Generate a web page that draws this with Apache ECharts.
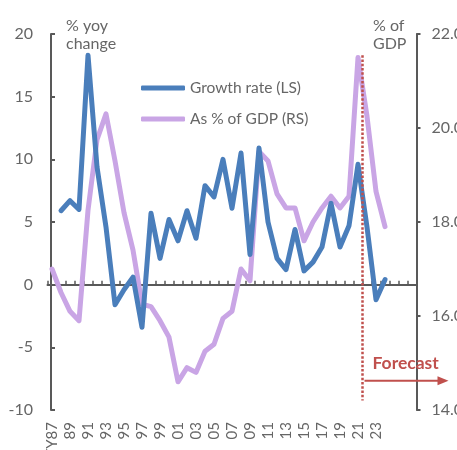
<!DOCTYPE html>
<html>
<head>
<meta charset="utf-8">
<script src="https://cdn.jsdelivr.net/npm/echarts@6/dist/echarts.min.js"></script>
<style>
  html, body { margin: 0; padding: 0; background: #ffffff; }
  #chart { width: 457px; height: 450px; }
</style>
</head>
<body>
<div id="chart"></div>
<script>
// Fiscal years on the category axis (the last few are empty room past the forecast)
const categories = [
  'FY87','FY88','FY89','FY90','FY91','FY92','FY93','FY94','FY95','FY96',
  'FY97','FY98','FY99','FY00','FY01','FY02','FY03','FY04','FY05','FY06',
  'FY07','FY08','FY09','FY10','FY11','FY12','FY13','FY14','FY15','FY16',
  'FY17','FY18','FY19','FY20','FY21','FY22','FY23','FY24','FY25','FY26','FY27'
];

// Labels printed under every other year
const tickLabels = ['FY87','89','91','93','95','97','99','01','03','05',
                    '07','09','11','13','15','17','19','21','23'];

// Growth rate, % yoy (left scale), FY87..FY24
const growthRate = [
  null, 5.9, 6.7, 6.0, 18.3, 9.4, 4.6, -1.6, -0.4, 0.6,
  -3.4, 5.7, 2.1, 5.2, 3.5, 5.9, 3.7, 7.9, 7.0, 10.0,
  6.1, 10.5, 2.4, 10.9, 5.0, 2.1, 1.2, 4.4, 1.1, 1.8,
  3.0, 6.5, 3.0, 4.7, 9.6, 4.6, -1.2, 0.4
];

// Share of GDP, % (right scale), FY87..FY24
const shareOfGdp = [
  17.0, 16.5, 16.1, 15.9, 18.25, 19.75, 20.3, 19.3, 18.2, 17.4,
  16.25, 16.2, 15.9, 15.55, 14.6, 14.9, 14.8, 15.25, 15.4, 15.95,
  16.1, 17.0, 16.75, 19.5, 19.3, 18.6, 18.3, 18.3, 17.6, 18.0,
  18.3, 18.55, 18.3, 18.55, 21.5, 20.25, 18.65, 17.9
];

// Forecast boundary sits between these two years
const lastActual = 'FY21';
const firstForecast = 'FY22';

const FONT = 'Lato';
const TEXT = '#666666';
const AXIS = '#595959';
const BLUE = '#4a7ebb';
const PURPLE = '#c9a5e5';
const RED = '#c0504d';

const chart = echarts.init(document.getElementById('chart'), null, { renderer: 'canvas' });

chart.setOption({
  animation: false,
  backgroundColor: '#ffffff',
  grid: { left: 47.5, right: 40.5, top: 34, bottom: 40, containLabel: false, outerBoundsMode: 'none' },
  legend: {
    orient: 'vertical',
    left: 136,
    top: 74,
    itemWidth: 44,
    itemHeight: 5,
    itemGap: 13,
    icon: 'roundRect',
    data: ['Growth rate (LS)', 'As % of GDP (RS)'],
    textStyle: { fontFamily: FONT, fontSize: 15.5, color: TEXT, lineHeight: 18 }
  },
  xAxis: [
    {
      type: 'category',
      data: categories,
      position: 'bottom',
      boundaryGap: true,
      axisLine: { show: false, onZero: false },
      axisTick: { show: false },
      axisLabel: {
        rotate: 90,
        margin: 12,
        fontFamily: FONT,
        fontSize: 15,
        color: TEXT,
        interval: 0,
        hideOverlap: false,
        formatter: (v, i) => (i % 2 === 0 && i / 2 < tickLabels.length) ? tickLabels[i / 2] : ''
      },
      splitLine: { show: false }
    },
    {
      // zero line with small year ticks
      type: 'category',
      data: categories,
      position: 'top',
      boundaryGap: true,
      axisLine: { show: true, onZero: true, lineStyle: { color: AXIS, width: 2 } },
      axisTick: { show: true, inside: false, length: 4, interval: 0, lineStyle: { color: AXIS, width: 1.5 } },
      axisLabel: { show: false },
      splitLine: { show: false }
    }
  ],
  yAxis: [
    {
      type: 'value',
      min: -10, max: 20, interval: 5,
      position: 'left',
      offset: -3.5,
      axisLine: { show: true, onZero: false, lineStyle: { color: AXIS, width: 2 } },
      axisTick: { show: true, inside: true, length: 4, lineStyle: { color: AXIS, width: 2 } },
      axisLabel: { margin: 18, fontFamily: FONT, fontSize: 16, color: TEXT },
      splitLine: { show: false }
    },
    {
      type: 'value',
      min: 14, max: 22, interval: 2,
      position: 'right',
      axisLine: { show: true, onZero: false, lineStyle: { color: AXIS, width: 2 } },
      axisTick: { show: true, inside: false, length: 4, lineStyle: { color: AXIS, width: 2 } },
      axisLabel: { margin: 15, fontFamily: FONT, fontSize: 16, color: TEXT, formatter: v => v.toFixed(1) },
      splitLine: { show: false }
    }
  ],
  series: [
    {
      name: 'As % of GDP (RS)',
      type: 'line',
      xAxisIndex: 0,
      yAxisIndex: 1,
      data: shareOfGdp,
      showSymbol: false,
      symbol: 'none',
      color: PURPLE,
      lineStyle: { color: PURPLE, width: 5, join: 'round', cap: 'round' },
      z: 2
    },
    {
      name: 'Growth rate (LS)',
      type: 'line',
      xAxisIndex: 0,
      yAxisIndex: 0,
      data: growthRate,
      showSymbol: false,
      symbol: 'none',
      connectNulls: false,
      color: BLUE,
      lineStyle: { color: BLUE, width: 5, join: 'round', cap: 'round' },
      z: 3
    }
  ]
});

// Annotations: axis captions, forecast divider and arrow
const xA = chart.convertToPixel({ xAxisIndex: 0 }, lastActual);
const xB = chart.convertToPixel({ xAxisIndex: 0 }, firstForecast);
const xDiv = (xA + xB) / 2;
const yTop = chart.convertToPixel({ yAxisIndex: 1 }, 21.55);
const yBottom = chart.convertToPixel({ yAxisIndex: 1 }, 14.2);
const yArrow = chart.convertToPixel({ yAxisIndex: 1 }, 14.62);
const yLabel = chart.convertToPixel({ yAxisIndex: 1 }, 15.0);

chart.setOption({
  graphic: [
    {
      type: 'text', left: 66, top: 17, silent: true,
      style: { text: '% yoy\nchange', fill: TEXT, font: '16px ' + FONT, lineHeight: 18 }
    },
    {
      type: 'text', left: 373, top: 17, silent: true,
      style: { text: '% of\nGDP', fill: TEXT, font: '16px ' + FONT, lineHeight: 18, align: 'center' }
    },
    {
      type: 'line', silent: true, z: 10,
      shape: { x1: xDiv, y1: yTop, x2: xDiv, y2: yBottom },
      style: { stroke: RED, lineWidth: 2.5, lineDash: [2.5, 1.8] }
    },
    {
      type: 'text', silent: true, z: 10,
      style: {
        text: 'Forecast', x: xDiv + 10, y: yLabel,
        fill: RED, font: 'bold 17.5px ' + FONT, verticalAlign: 'middle', align: 'left'
      }
    },
    {
      type: 'line', silent: true, z: 10,
      shape: { x1: xDiv + 2, y1: yArrow, x2: xDiv + 78, y2: yArrow },
      style: { stroke: RED, lineWidth: 2 }
    },
    {
      type: 'polygon', silent: true, z: 10,
      shape: { points: [[xDiv + 75, yArrow - 4.5], [xDiv + 86, yArrow], [xDiv + 75, yArrow + 4.5]] },
      style: { fill: RED }
    }
  ]
});
</script>
</body>
</html>
